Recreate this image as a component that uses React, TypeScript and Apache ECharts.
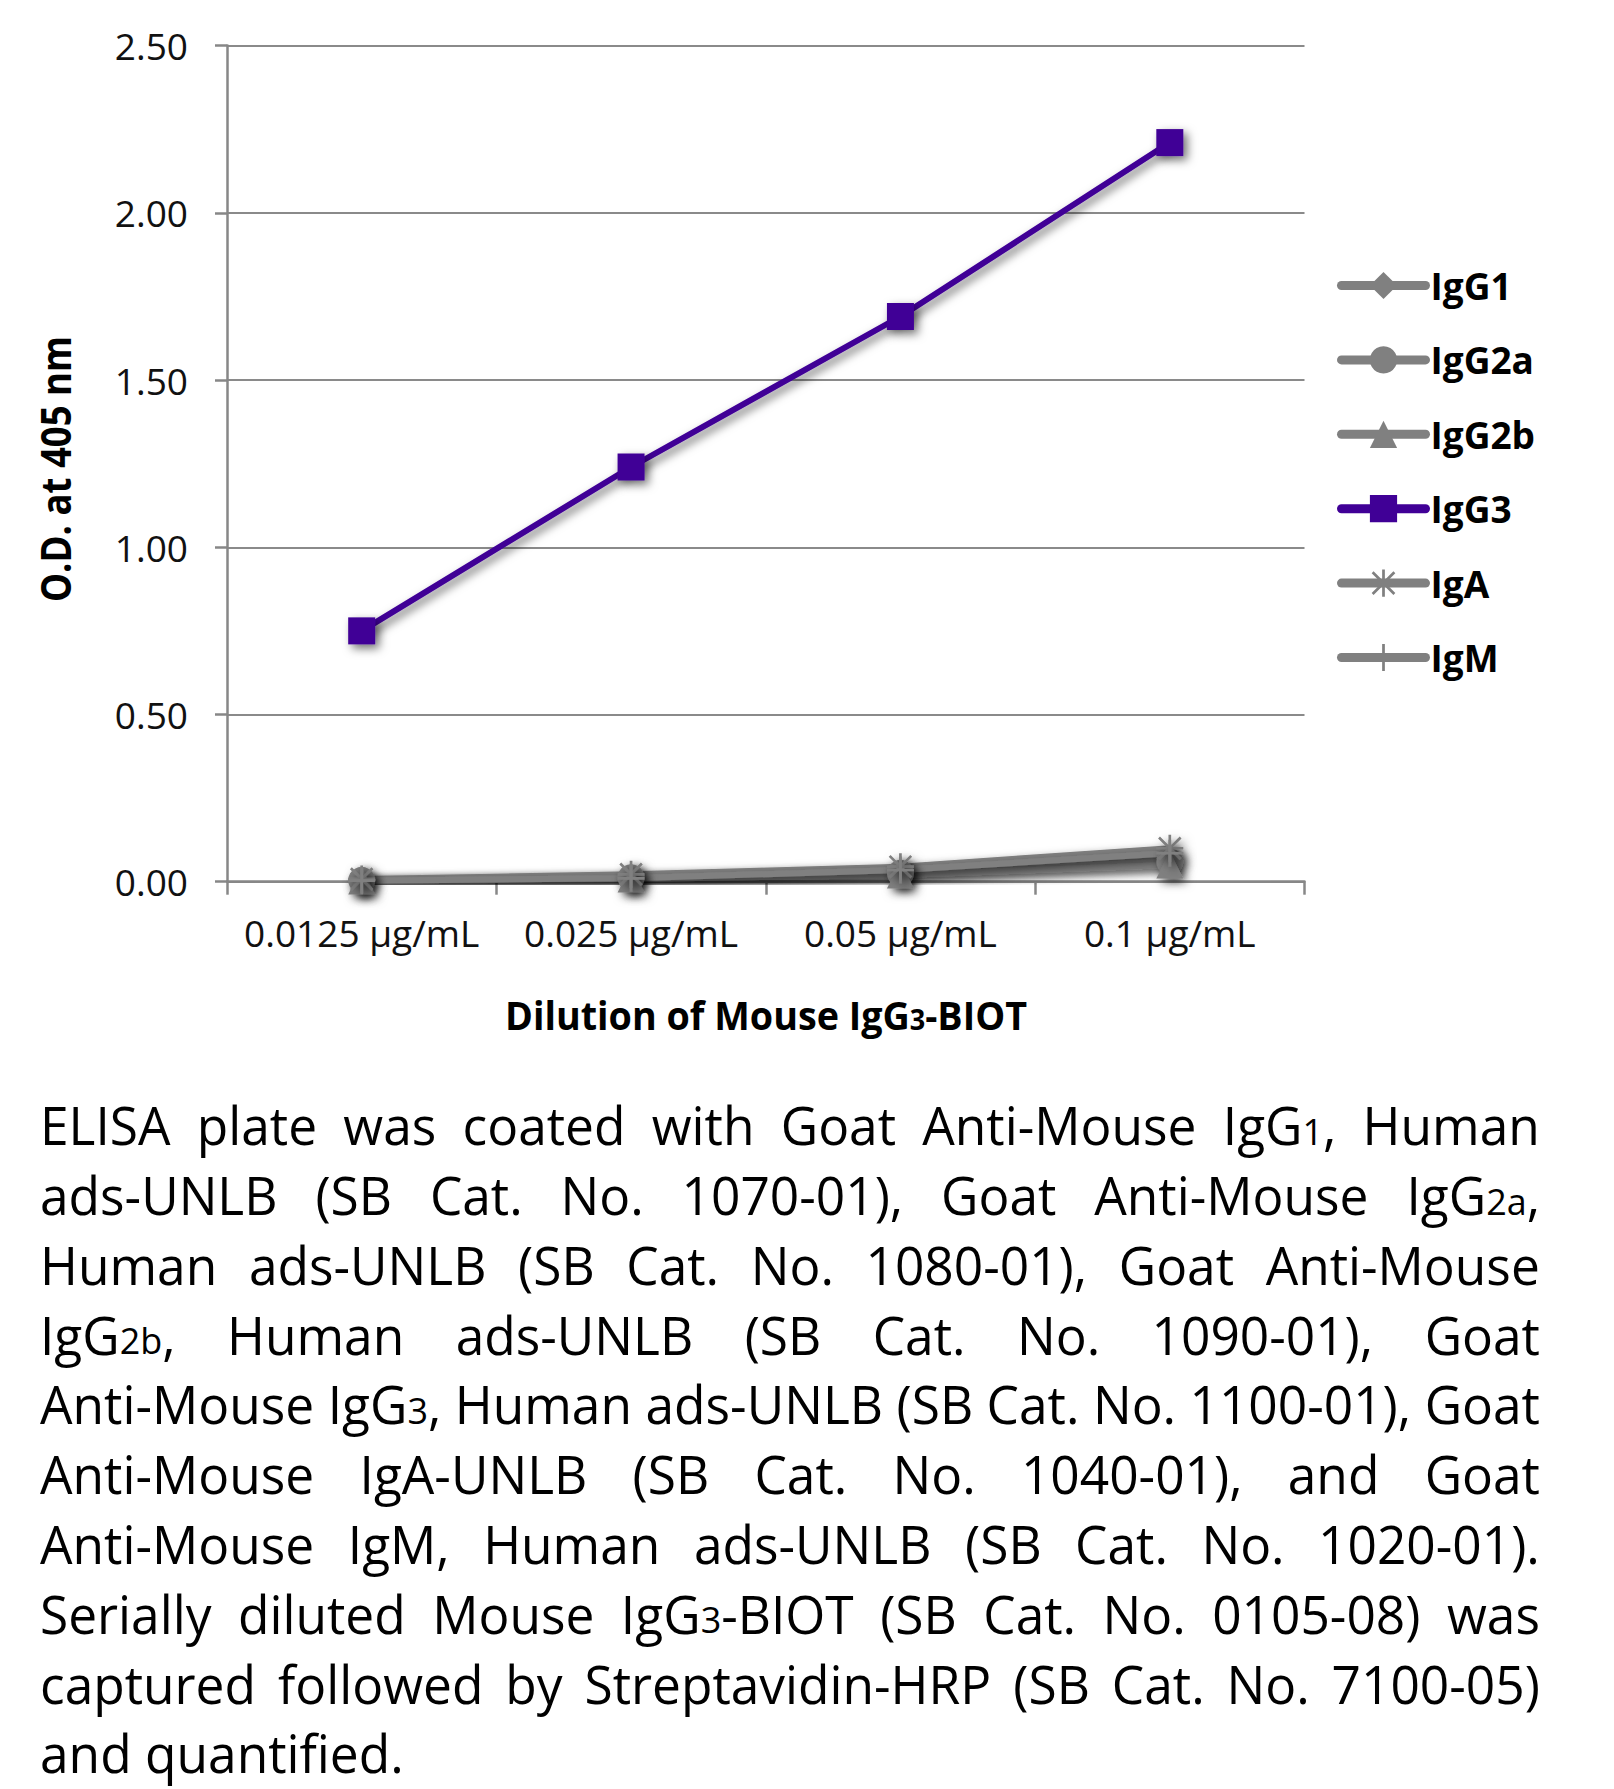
import React, { useEffect, useRef } from "react";
import * as echarts from "echarts";

// ---------- data ----------
const categories = ["0.0125 µg/mL", "0.025 µg/mL", "0.05 µg/mL", "0.1 µg/mL"];
const seriesNames = ["IgG1", "IgG2a", "IgG2b", "IgG3", "IgA", "IgM"];
const igG1 = [0.005, 0.015, 0.03, 0.07];
const igG2a = [0.004, 0.012, 0.025, 0.06];
const igG2b = [0.002, 0.008, 0.02, 0.05];
const igG3 = [0.75, 1.24, 1.69, 2.21];
const igA = [0.008, 0.022, 0.045, 0.1];
const igM = [0.003, 0.01, 0.035, 0.085];
const yMin = 0;
const yMax = 2.5;
const yStep = 0.5;

const yAxisTitle = "O.D. at 405 nm";
const xAxisTitle = "Dilution of Mouse IgG{3}-BIOT";
const captionLines = [
  "ELISA plate was coated with Goat Anti-Mouse IgG{1}, Human",
  "ads-UNLB (SB Cat. No. 1070-01), Goat Anti-Mouse IgG{2a},",
  "Human ads-UNLB (SB Cat. No. 1080-01), Goat Anti-Mouse",
  "IgG{2b}, Human ads-UNLB (SB Cat. No. 1090-01), Goat",
  "Anti-Mouse IgG{3}, Human ads-UNLB (SB Cat. No. 1100-01), Goat",
  "Anti-Mouse IgA-UNLB (SB Cat. No. 1040-01), and Goat",
  "Anti-Mouse IgM, Human ads-UNLB (SB Cat. No. 1020-01).",
  "Serially diluted Mouse IgG{3}-BIOT (SB Cat. No. 0105-08) was",
  "captured followed by Streptavidin-HRP (SB Cat. No. 7100-05)",
  "and quantified.",
];

// ---------- styles ----------
const FONT = '"Open Sans", sans-serif';
const GRAY = "#808080";
const PURPLE = "#400096";
const AXIS = "#878787";
const ASTERISK =
  "path://M9,0h2v20h-2z M1.3,2.7L2.7,1.3L18.7,17.3L17.3,18.7z M17.3,1.3L18.7,2.7L2.7,18.7L1.3,17.3z M0,9h20v2h-20z";
const PLUS = "path://M9,0h2v20h-2z M0,9h20v2h-20z";

let ctx: CanvasRenderingContext2D | null = null;
function measure(text: string, size: number, weight = "normal") {
  if (!ctx) ctx = document.createElement("canvas").getContext("2d");
  ctx!.font = `${weight} ${size}px ${FONT}`;
  return ctx!.measureText(text).width;
}

type Seg = { t: string; small: boolean };
function parse(word: string): Seg[] {
  const out: Seg[] = [];
  word.split(/(\{[^}]*\})/).forEach((p) => {
    if (!p) return;
    if (p.startsWith("{")) out.push({ t: p.slice(1, -1), small: true });
    else out.push({ t: p, small: false });
  });
  return out;
}

function textEl(t: string, x: number, y: number, size: number, weight: string, k: number) {
  return {
    type: "text",
    x,
    y,
    scaleX: k,
    silent: true,
    style: {
      text: t,
      fontSize: size,
      fontFamily: FONT,
      fontWeight: weight,
      fill: "#000",
      align: "left",
      verticalAlign: "middle",
    },
  };
}

function runSegs(segs: Seg[], x0: number, cy: number, S: number, s: number, weight: string, k: number) {
  const els: any[] = [];
  let x = x0;
  segs.forEach((g) => {
    const size = g.small ? s : S;
    const y = g.small ? cy + 0.388 * (S - s) : cy;
    els.push(textEl(g.t, x, y, size, weight, k));
    x += measure(g.t, size, weight) * k;
  });
  return { els, x };
}
function segsWidth(segs: Seg[], S: number, s: number, weight: string) {
  return segs.reduce((a, g) => a + measure(g.t, g.small ? s : S, weight), 0);
}

function buildGraphics() {
  const els: any[] = [];
  // caption (justified)
  const S = 53;
  const s = 37;
  const left = 40;
  const width = 1500;
  const firstBaseline = 1145;
  const lineGap = 69.8;
  const lines = captionLines.map((l) => l.split(" ").map(parse));
  const space = measure(" ", S);
  const naturals = lines.map(
    (ws) => ws.reduce((a, w) => a + segsWidth(w, S, s, "normal"), 0) + space * (ws.length - 1)
  );
  const k = Math.min(1, width / Math.max(...naturals.slice(0, lines.length - 1)));
  lines.forEach((ws, i) => {
    const cy = firstBaseline + i * lineGap - 0.388 * S;
    const wordsW = ws.map((w) => segsWidth(w, S, s, "normal") * k);
    const sum = wordsW.reduce((a, b) => a + b, 0);
    const last = i === lines.length - 1;
    const gap = last || ws.length < 2 ? space * k : (width - sum) / (ws.length - 1);
    let x = left;
    ws.forEach((w, j) => {
      const r = runSegs(w, x, cy, S, s, "normal", k);
      els.push(...r.els);
      x += wordsW[j] + gap;
    });
  });

  // x axis title
  const XS = 39;
  const xs = 28;
  const xsegs = parse(xAxisTitle);
  const xW = segsWidth(xsegs, XS, xs, "bold");
  const xk = 522 / xW;
  const xr = runSegs(xsegs, 766 - 261, 1030 - 0.388 * XS, XS, xs, "bold", xk);
  els.push(...xr.els);

  // y axis title (rotated)
  const YS = 42;
  const yW = measure(yAxisTitle, YS, "bold");
  els.push({
    type: "text",
    x: 71.7 - 0.388 * YS,
    y: 469,
    rotation: Math.PI / 2,
    scaleX: 266 / yW,
    silent: true,
    style: {
      text: yAxisTitle,
      fontSize: YS,
      fontFamily: FONT,
      fontWeight: "bold",
      fill: "#000",
      align: "center",
      verticalAlign: "middle",
    },
  });
  return els;
}

const shadow = {
  shadowColor: "rgba(0,0,0,0.55)",
  shadowBlur: 10,
  shadowOffsetX: 4,
  shadowOffsetY: 4,
};

function mkSeries(name: string, data: number[], color: string, symbol: string) {
  return {
    name,
    type: "line",
    data,
    symbol,
    symbolSize: 27,
    showSymbol: true,
    lineStyle: { color, width: 6, ...shadow },
    itemStyle: { color, ...shadow },
    emphasis: { disabled: true },
  };
}

function buildOption() {
  return {
    animation: false,
    backgroundColor: "#ffffff",
    grid: { left: 227, right: 309.5, top: 45.6, bottom: 1789 - 881.7, containLabel: false },
    xAxis: {
      type: "category",
      data: categories,
      boundaryGap: true,
      axisLine: { lineStyle: { color: AXIS, width: 2.5 } },
      axisTick: { show: true, length: 13, lineStyle: { color: AXIS, width: 2.5 } },
      axisLabel: { fontSize: 37, fontFamily: FONT, color: "#111", margin: 32, interval: 0, hideOverlap: false },
      splitLine: { show: false },
    },
    yAxis: {
      type: "value",
      min: yMin,
      max: yMax,
      interval: yStep,
      axisLine: { show: true, lineStyle: { color: AXIS, width: 2.5 } },
      axisTick: { show: true, length: 12, lineStyle: { color: AXIS, width: 2.5 } },
      axisLabel: {
        fontSize: 37,
        fontFamily: FONT,
        color: "#111",
        margin: 39,
        formatter: (v: number) => v.toFixed(2),
      },
      splitLine: { show: true, lineStyle: { color: "#8a8a8a", width: 2 } },
    },
    legend: {
      orient: "vertical",
      left: 1337,
      top: 267,
      padding: 0,
      itemWidth: 84,
      itemHeight: 34,
      itemGap: 37.4,
      data: seriesNames,
      selectedMode: false,
      textStyle: { fontSize: 37, fontWeight: "bold", fontFamily: FONT, color: "#000", lineHeight: 34 },
      lineStyle: { width: 9, cap: "round", shadowBlur: 0, shadowColor: "transparent", shadowOffsetX: 0, shadowOffsetY: 0 },
      itemStyle: { shadowBlur: 0, shadowColor: "transparent", shadowOffsetX: 0, shadowOffsetY: 0 },
    },
    series: [
      mkSeries("IgG1", igG1, GRAY, "diamond"),
      mkSeries("IgG2a", igG2a, GRAY, "circle"),
      mkSeries("IgG2b", igG2b, GRAY, "triangle"),
      mkSeries("IgA", igA, GRAY, ASTERISK),
      mkSeries("IgM", igM, GRAY, PLUS),
      mkSeries("IgG3", igG3, PURPLE, "rect"),
    ],
    graphic: buildGraphics(),
  };
}

export default function App() {
  const ref = useRef<HTMLDivElement>(null);
  useEffect(() => {
    document.body.style.margin = "0";
    const chart = echarts.init(ref.current!, null, { renderer: "svg" });
    chart.setOption(buildOption() as any);
    return () => chart.dispose();
  }, []);
  return <div ref={ref} style={{ width: 1614, height: 1789, background: "#fff" }} />;
}
